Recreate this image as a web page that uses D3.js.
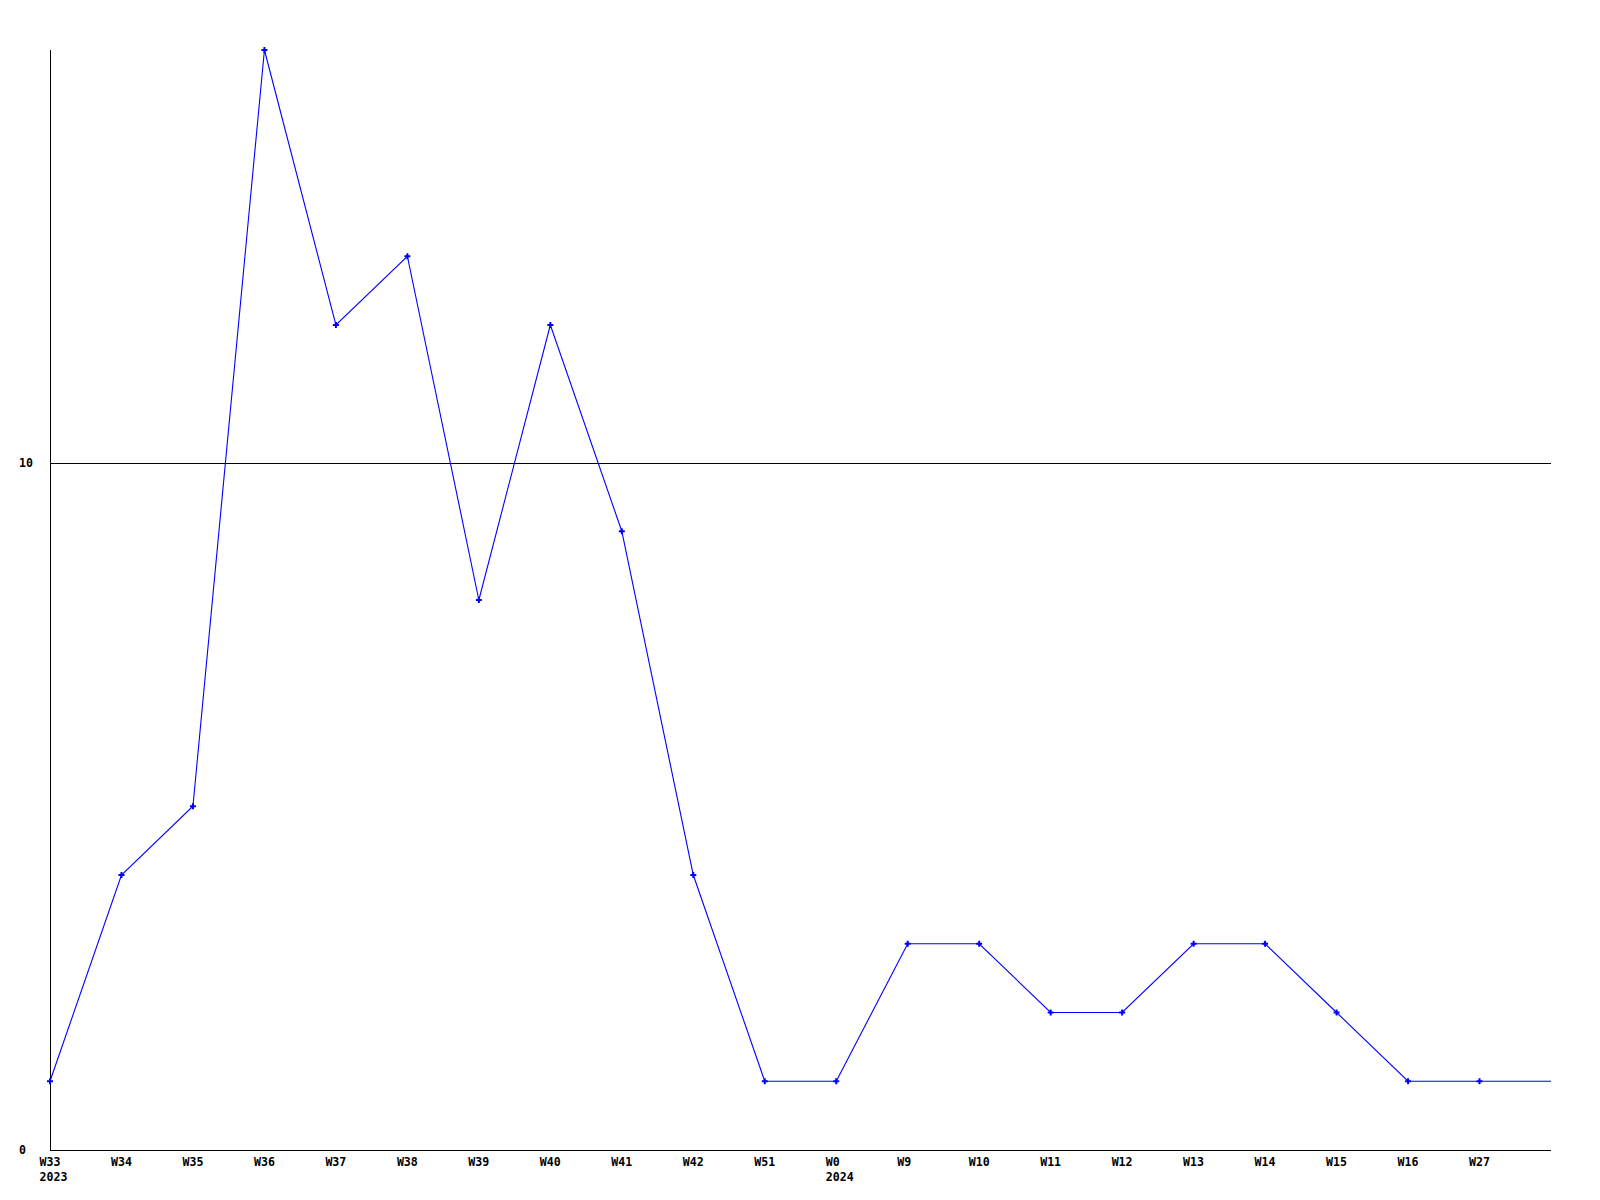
<!DOCTYPE html>
<html>
<head>
<meta charset="utf-8">
<script src="https://cdn.jsdelivr.net/npm/d3@7"></script>
<style>
  html, body { margin: 0; padding: 0; background: #ffffff; }
  svg { display: block; }
  text { font-family: "DejaVu Sans Mono", "Liberation Mono", monospace; font-weight: bold; font-size: 11.6px; fill: #000; }
</style>
</head>
<body>
<svg id="chart" width="1600" height="1200"></svg>
<script>
// Week categories (last slot has no label)
const weekLabels = ["W33","W34","W35","W36","W37","W38","W39","W40","W41","W42","W51","W0","W9","W10","W11","W12","W13","W14","W15","W16","W27",""];
const yearLabels = ["2023","","","","","","","","","","","2024","","","","","","","","","",""];
const values = [1,4,5,16,12,13,8,12,9,4,1,1,3,3,2,2,3,3,2,1,1,1];
const showMarker = [true,true,true,true,true,true,true,true,true,true,true,true,true,true,true,true,true,true,true,true,true,false];
const yTicks = [0, 10];
const yMax = 16;

(function () {
const svg = d3.select("#chart");
const mLeft = 50, mRight = 1551, mTop = 50, mBottom = 1150;

const x = d3.scaleLinear().domain([0, weekLabels.length - 1]).range([mLeft, mRight]);
const y = d3.scaleLinear().domain([0, yMax]).range([mBottom, mTop]);

// Axes lines
svg.append("line").attr("x1", mLeft + 0.5).attr("x2", mLeft + 0.5).attr("y1", mTop).attr("y2", mBottom)
  .attr("stroke", "#000").attr("stroke-width", 1);
svg.append("line").attr("x1", mLeft).attr("x2", mRight).attr("y1", mBottom + 0.5).attr("y2", mBottom + 0.5)
  .attr("stroke", "#000").attr("stroke-width", 1);

// Grid lines (non-zero ticks)
yTicks.filter(t => t !== 0).forEach(t => {
  svg.append("line").attr("x1", mLeft).attr("x2", mRight)
    .attr("y1", Math.round(y(t)) + 0.5).attr("y2", Math.round(y(t)) + 0.5)
    .attr("stroke", "#000").attr("stroke-width", 1);
});

// Y tick labels
svg.selectAll("text.ytick").data(yTicks).enter().append("text")
  .attr("class", "ytick")
  .attr("x", 19)
  .attr("y", d => y(d))
  .attr("dy", "0.35em")
  .text(d => d);

// X tick labels
svg.selectAll("text.xtick").data(weekLabels).enter().append("text")
  .attr("class", "xtick")
  .attr("x", (d, i) => x(i) - 10.5)
  .attr("y", 1166)
  .text(d => d);
svg.selectAll("text.year").data(yearLabels).enter().append("text")
  .attr("class", "year")
  .attr("x", (d, i) => x(i) - 10.5)
  .attr("y", 1181)
  .text(d => d);

// Line
const line = d3.line().x((d, i) => x(i)).y(d => y(d));
svg.append("path").datum(values)
  .attr("d", line)
  .attr("fill", "none")
  .attr("stroke", "#0000ff")
  .attr("stroke-width", 1.1);

// Markers
const sym = d3.symbol().type(d3.symbolCross).size(20);
svg.selectAll("path.marker").data(values.map((v, i) => ({v, i})).filter(d => showMarker[d.i]))
  .enter().append("path")
  .attr("class", "marker")
  .attr("d", sym)
  .attr("transform", d => `translate(${x(d.i)},${y(d.v)})`)
  .attr("fill", "#0000ff");
})();
</script>
</body>
</html>
